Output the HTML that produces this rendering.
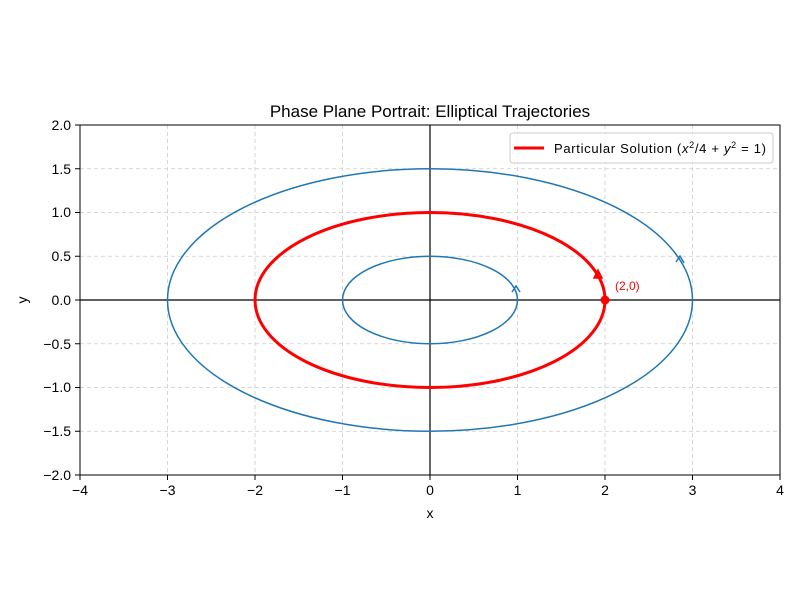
<!DOCTYPE html>
<html><head><style>body{margin:0;background:#fff}svg{display:block}text{font-family:"Liberation Sans",sans-serif}</style></head><body>
<svg width="800" height="600" xmlns="http://www.w3.org/2000/svg">
<rect width="800" height="600" fill="#fff"/>
<g stroke="#cccccc" stroke-dasharray="4,3" stroke-width="0.8">
<line x1="167.5" y1="125" x2="167.5" y2="475"/><line x1="255" y1="125" x2="255" y2="475"/><line x1="342.5" y1="125" x2="342.5" y2="475"/><line x1="517.5" y1="125" x2="517.5" y2="475"/><line x1="605" y1="125" x2="605" y2="475"/><line x1="692.5" y1="125" x2="692.5" y2="475"/>
<line x1="80" y1="168.75" x2="780" y2="168.75"/><line x1="80" y1="212.5" x2="780" y2="212.5"/><line x1="80" y1="256.25" x2="780" y2="256.25"/><line x1="80" y1="343.75" x2="780" y2="343.75"/><line x1="80" y1="387.5" x2="780" y2="387.5"/><line x1="80" y1="431.25" x2="780" y2="431.25"/>
</g>
<line x1="80" y1="300" x2="780" y2="300" stroke="#000" stroke-width="1.2"/>
<line x1="430" y1="125" x2="430" y2="475" stroke="#000" stroke-width="1.2"/>
<g fill="none" stroke="#1f77b4" stroke-width="1.5">
<ellipse cx="430" cy="300" rx="262.5" ry="131.25"/>
<ellipse cx="430" cy="300" rx="87.5" ry="43.75"/>
<path d="M676,262 L680,256 L684,263"/>
<path d="M512,292 L516,286 L520,292"/>
</g>
<ellipse cx="430" cy="300" rx="175" ry="87.5" fill="none" stroke="red" stroke-width="3"/>
<path d="M594,278 L598,270 L602,278 Z" fill="red" stroke="red" stroke-width="1.5"/>
<circle cx="605" cy="300" r="4.5" fill="red"/>
<text x="615" y="290" font-size="12" fill="red">(2,0)</text>
<rect x="80" y="125" width="700" height="350" fill="none" stroke="#000" stroke-width="1"/>
<g stroke="#000"><line x1="80" y1="475" x2="80" y2="480"/><line x1="167.5" y1="475" x2="167.5" y2="480"/><line x1="255" y1="475" x2="255" y2="480"/><line x1="342.5" y1="475" x2="342.5" y2="480"/><line x1="430" y1="475" x2="430" y2="480"/><line x1="517.5" y1="475" x2="517.5" y2="480"/><line x1="605" y1="475" x2="605" y2="480"/><line x1="692.5" y1="475" x2="692.5" y2="480"/><line x1="780" y1="475" x2="780" y2="480"/>
<line x1="75" y1="125" x2="80" y2="125"/><line x1="75" y1="168.75" x2="80" y2="168.75"/><line x1="75" y1="212.5" x2="80" y2="212.5"/><line x1="75" y1="256.25" x2="80" y2="256.25"/><line x1="75" y1="300" x2="80" y2="300"/><line x1="75" y1="343.75" x2="80" y2="343.75"/><line x1="75" y1="387.5" x2="80" y2="387.5"/><line x1="75" y1="431.25" x2="80" y2="431.25"/><line x1="75" y1="475" x2="80" y2="475"/></g>
<g font-size="14" text-anchor="middle"><text x="80" y="495">−4</text><text x="167.5" y="495">−3</text><text x="255" y="495">−2</text><text x="342.5" y="495">−1</text><text x="430" y="495">0</text><text x="517.5" y="495">1</text><text x="605" y="495">2</text><text x="692.5" y="495">3</text><text x="780" y="495">4</text></g>
<g font-size="14" text-anchor="end"><text x="71" y="130">2.0</text><text x="71" y="174">1.5</text><text x="71" y="217">1.0</text><text x="71" y="261">0.5</text><text x="71" y="305">0.0</text><text x="71" y="349">−0.5</text><text x="71" y="392">−1.0</text><text x="71" y="436">−1.5</text><text x="71" y="480">−2.0</text></g>
<text x="430" y="518" font-size="14" text-anchor="middle">x</text>
<text x="27" y="300" font-size="14" text-anchor="middle" transform="rotate(-90 27 300)">y</text>
<text x="430" y="117" font-size="17" text-anchor="middle">Phase Plane Portrait: Elliptical Trajectories</text>
<rect x="510" y="133" width="263" height="30" rx="3" fill="#fff" fill-opacity="0.8" stroke="#ccc"/>
<line x1="514" y1="148" x2="544" y2="148" stroke="red" stroke-width="3"/>
<text x="554" y="153" font-size="13" textLength="212" lengthAdjust="spacing">Particular Solution (<tspan font-style="italic">x</tspan><tspan font-size="9" dy="-5">2</tspan><tspan dy="5">/4 + </tspan><tspan font-style="italic">y</tspan><tspan font-size="9" dy="-5">2</tspan><tspan dy="5"> = 1)</tspan></text>
</svg>
</body></html>
